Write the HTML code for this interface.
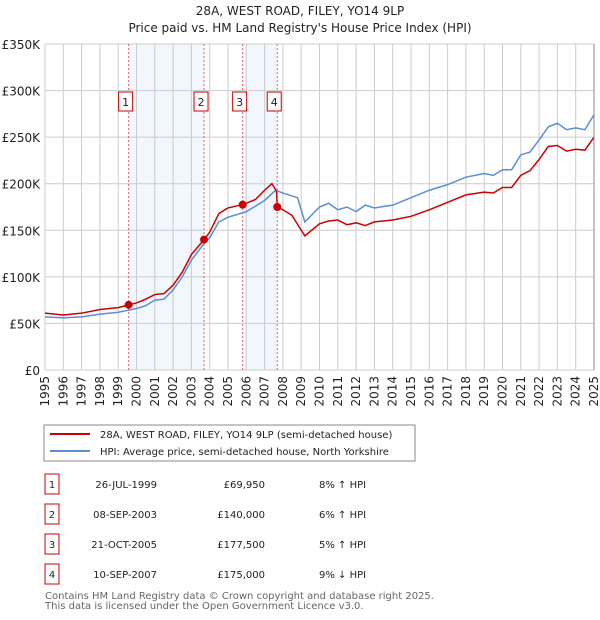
<!DOCTYPE html>
<html><head><meta charset="utf-8"><style>
body{margin:0;background:#fff;font-family:"DejaVu Sans","Liberation Sans",sans-serif;}
#wrap{position:relative;width:600px;height:620px;overflow:hidden;}
</style></head><body><div id="wrap">
<svg id="svg" width="600" height="620" xmlns="http://www.w3.org/2000/svg" font-family="DejaVu Sans, Liberation Sans, sans-serif">
<text x="300" y="15" text-anchor="middle" font-size="12" fill="#222">28A, WEST ROAD, FILEY, YO14 9LP</text>
<text x="300" y="32" text-anchor="middle" font-size="12" fill="#222">Price paid vs. HM Land Registry's House Price Index (HPI)</text>
<g id="bands"></g><g id="grid"></g><g id="lines"></g><g id="marks"></g><g id="axes"></g>
<rect x="44" y="425" width="371" height="36" fill="#fff" stroke="#888"/>
<line x1="50" y1="434" x2="90" y2="434" stroke="#cc0000" stroke-width="2"/>
<text x="100" y="438" font-size="10" fill="#222">28A, WEST ROAD, FILEY, YO14 9LP (semi-detached house)</text>
<line x1="50" y1="451" x2="90" y2="451" stroke="#5b8fd4" stroke-width="2"/>
<text x="100" y="455" font-size="10" fill="#222">HPI: Average price, semi-detached house, North Yorkshire</text>
<g id="table" font-size="10" fill="#222"></g>
<text x="45" y="599" font-size="10" fill="#666">Contains HM Land Registry data © Crown copyright and database right 2025.</text>
<text x="45" y="609" font-size="10" fill="#666">This data is licensed under the Open Government Licence v3.0.</text>
</svg></div>
<script>
const hpiYears=[1995,1996,1997,1998,1999,2000,2000.5,2001,2001.5,2002,2002.5,2003,2003.7,2004,2004.5,2005,2006,2007,2007.6,2008,2008.8,2009.2,2010,2010.5,2011,2011.5,2012,2012.5,2013,2014,2015,2016,2017,2018,2019,2019.5,2020,2020.5,2021,2021.5,2022,2022.5,2023,2023.5,2024,2024.5,2025];
const hpiValues=[57,56,57,60,62,66,69,75,76,86,100,118,136,142,159,164,170,182,193,190,185,159,175,179,172,175,170,177,174,177,185,193,199,207,211,209,215,215,231,234,247,261,265,258,260,258,274];
const priceYears=[1995,1996,1997,1998,1999,1999.57,2000,2000.5,2001,2001.5,2002,2002.5,2003,2003.69,2004,2004.5,2005,2005.8,2006.5,2007,2007.4,2007.65,2007.69,2008,2008.5,2009,2009.2,2010,2010.5,2011,2011.5,2012,2012.5,2013,2014,2015,2016,2017,2018,2019,2019.5,2020,2020.5,2021,2021.5,2022,2022.5,2023,2023.5,2024,2024.5,2025];
const priceValues=[61,59,61,65,67,70,72,76,81,82,91,105,124,140,148,168,174,177.5,183,193,200,192,175,172,166,150,144,157,160,161,156,158,155,159,161,165,172,180,188,191,190,196,196,209,214,226,240,241,235,237,236,250];
const saleYears=[1999.57,2003.69,2005.80,2007.69];
const saleValues=[69.95,140,177.5,175];
const saleLabels=["1","2","3","4"];
const yTicks=[0,50,100,150,200,250,300,350];
const yTickLabels=["£0","£50K","£100K","£150K","£200K","£250K","£300K","£350K"];
const xTicks=[1995,1996,1997,1998,1999,2000,2001,2002,2003,2004,2005,2006,2007,2008,2009,2010,2011,2012,2013,2014,2015,2016,2017,2018,2019,2020,2021,2022,2023,2024,2025];
const tableDates=["26-JUL-1999","08-SEP-2003","21-OCT-2005","10-SEP-2007"];
const tablePrices=["£69,950","£140,000","£177,500","£175,000"];
const tableHpi=["8% ↑ HPI","6% ↑ HPI","5% ↑ HPI","9% ↓ HPI"];

const NS="http://www.w3.org/2000/svg";
const X0=45,X1=594,Y0=370,Y1=44;
const xs=y=>X0+(y-1995)/30*(X1-X0);
const ys=v=>Y0-v/350*(Y0-Y1);
function mk(tag,parent,attrs){const e=document.createElementNS(NS,tag);for(const k in attrs)e.setAttribute(k,attrs[k]);document.getElementById(parent).appendChild(e);return e;}

// bands
[[0,1],[2,3]].forEach((p,i)=>{
 const r=mk('rect','bands',{x:xs(saleYears[p[0]]),y:Y1,width:xs(saleYears[p[1]])-xs(saleYears[p[0]]),height:Y0-Y1,fill:'#edf2fc',opacity:0.7});
 
 
});
// grid
yTicks.forEach((t,i)=>{
 const l=mk('line','grid',{x1:X0,x2:X1,y1:ys(t),y2:ys(t),stroke:'#ccc'});
 
 
 const tx=mk('text','axes',{x:40,y:ys(t)+5,'text-anchor':'end','font-size':12,fill:'#222'});
 tx.textContent=yTickLabels[i];
 
 
});
xTicks.forEach(t=>{
 const l=mk('line','grid',{x1:xs(t),x2:xs(t),y1:Y1,y2:Y0,stroke:'#ccc'});
 
 
 const tx=mk('text','axes',{x:0,y:0,transform:`translate(${xs(t)+4},${Y0+6}) rotate(-90)`,'text-anchor':'end','font-size':12,fill:'#222'});
 tx.textContent=t;
 
 
});
const ax=mk('line','axes',{x1:X1,x2:X1,y1:Y1,y2:Y0,stroke:'#888'});


// sale vlines + labels
saleYears.forEach((y,i)=>{
 const l=mk('line','grid',{x1:xs(y),x2:xs(y),y1:Y1,y2:Y0,stroke:'#e06060','stroke-dasharray':'2,2'});
 
 
 const bx=mk('rect','marks',{x:xs(y)-10,y:92,width:14,height:19,fill:'#fff',stroke:'#cc0000'});
 
 
 const t=mk('text','marks',{x:xs(y)-3,y:106,'text-anchor':'middle','font-size':11,fill:'#222'});
 t.textContent=saleLabels[i];
 
 
});
// lines
const ph=mk('polyline','lines',{points:hpiYears.map((y,i)=>xs(y)+','+ys(hpiValues[i])).join(' '),fill:'none',stroke:'#5b8fd4','stroke-width':1.5});


const pp=mk('polyline','lines',{points:priceYears.map((y,i)=>xs(y)+','+ys(priceValues[i])).join(' '),fill:'none',stroke:'#cc0000','stroke-width':1.5});


saleYears.forEach((y,i)=>{
 const c=mk('circle','marks',{cx:xs(y),cy:ys(saleValues[i]),r:4,fill:'#cc0000'});
 
 
});
// table
tableDates.forEach((d,i)=>{
 const yy=481+i*30;
 const b=mk('rect','table',{x:45,y:yy-7,width:14,height:20,fill:'#fff',stroke:'#cc0000'});
 
 
 const vals=[[saleLabels[i],52,'middle'],[d,157,'end'],[tablePrices[i],265,'end'],[tableHpi[i],319,'start']];
 vals.forEach(v=>{
  const t=mk('text','table',{x:v[1],y:yy+7,'text-anchor':v[2],'font-size':10,fill:'#222'});
  t.textContent=v[0];
  
  
 });
});
</script></body></html>
